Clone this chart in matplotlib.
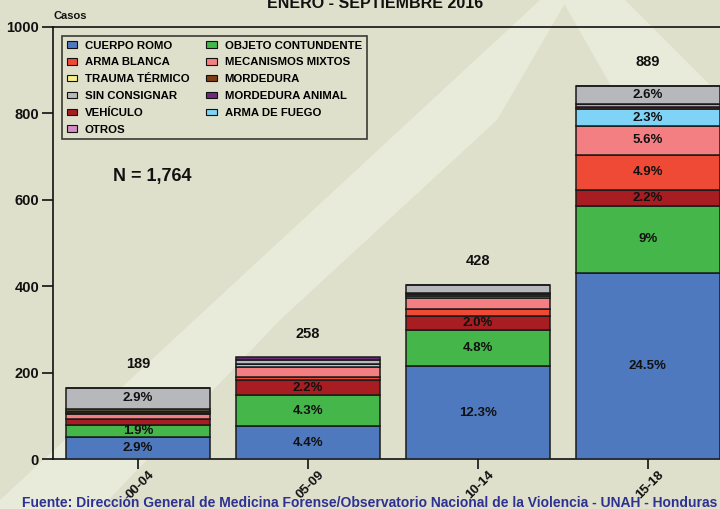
import matplotlib
matplotlib.use("Agg")
import matplotlib.pyplot as plt
from matplotlib.patches import Polygon, Patch
from matplotlib.transforms import ScaledTranslation
import numpy as np

plt.rcParams['font.family'] = ['Liberation Sans', 'DejaVu Sans']
plt.rcParams['font.weight'] = 'bold'

categories = ['00-04', '05-09', '10-14', '15-18']
totals = [189, 258, 428, 889]

cuerpo_romo = [51, 76, 216, 430]
objeto_contundente = [29, 72, 83, 157]
vehiculo = [13, 35, 33, 36]
arma_blanca = [0, 7, 15, 82]
mecanismos_mixtos = [12, 24, 25, 66]
arma_de_fuego = [3, 7, 6, 39]
mordedura = [3, 0, 4, 5]
otros = [0, 0, 3, 6]
trauma_termico = [5, 0, 0, 0]
sin_consignar = [50, 8, 18, 42]
mordedura_animal = [0, 7, 0, 0]

pct_cuerpo_romo = ['2.9%', '4.4%', '12.3%', '24.5%']
pct_objeto = ['1.9%', '4.3%', '4.8%', '9%']
pct_vehiculo = ['', '2.2%', '2.0%', '2.2%']
pct_arma_blanca = ['', '', '', '4.9%']
pct_mecanismos = ['', '', '', '5.6%']
pct_arma_fuego = ['', '', '', '2.3%']
pct_sin_consignar = ['2.9%', '', '', '2.6%']
empty = ['', '', '', '']

series = [
    ('CUERPO ROMO', cuerpo_romo, '#4f79bf', pct_cuerpo_romo),
    ('OBJETO CONTUNDENTE', objeto_contundente, '#45b64a', pct_objeto),
    ('VEHÍCULO', vehiculo, '#a81d22', pct_vehiculo),
    ('ARMA BLANCA', arma_blanca, '#ef4a36', pct_arma_blanca),
    ('MECANISMOS MIXTOS', mecanismos_mixtos, '#f47f82', pct_mecanismos),
    ('ARMA DE FUEGO', arma_de_fuego, '#7fd3f6', pct_arma_fuego),
    ('MORDEDURA', mordedura, '#7b3f16', empty),
    ('OTROS', otros, '#d58cc9', empty),
    ('TRAUMA TÉRMICO', trauma_termico, '#f6f08c', empty),
    ('SIN CONSIGNAR', sin_consignar, '#b7b8bc', pct_sin_consignar),
    ('MORDEDURA ANIMAL', mordedura_animal, '#6c2a7a', empty),
]
legend_order = ['CUERPO ROMO', 'ARMA BLANCA', 'TRAUMA TÉRMICO', 'SIN CONSIGNAR',
                'VEHÍCULO', 'OTROS', 'OBJETO CONTUNDENTE', 'MECANISMOS MIXTOS',
                'MORDEDURA', 'MORDEDURA ANIMAL', 'ARMA DE FUEGO']

bg = '#dfe0cb'
light = '#e8eada'
W, H = 720, 509
fig = plt.figure(figsize=(W / 100, H / 100), dpi=100, facecolor=bg)

# decorative background shapes in a full-figure background axes (pixel coords, y from top)
bax = fig.add_axes([0, 0, 1, 1], zorder=0)
bax.set_xlim(0, W)
bax.set_ylim(H, 0)
bax.axis('off')
bax.add_patch(Polygon([(540, 0), (567, 0), (497, 120), (280, 320), (100, 509), (0, 509), (0, 500)],
                      closed=True, facecolor=light, edgecolor='none'))
bax.add_patch(Polygon([(562, 0), (625, 0), (720, 95), (720, 277)], closed=True,
                      facecolor=light, edgecolor='none'))

ax = fig.add_axes([53 / W, 1 - 459.3 / H, 1 - 53 / W, (459.3 - 27) / H], zorder=1)
ax.set_facecolor('none')
x = np.arange(len(categories))
bottom = np.zeros(len(categories))
width = 0.847
for name, vals, col, labels in series:
    vals = np.array(vals, dtype=float)
    ax.bar(x, vals, width, bottom=bottom, color=col, edgecolor='#1a1a1a',
           linewidth=1.1, label=name, zorder=3)
    for i, lab in enumerate(labels):
        if lab:
            ax.text(x[i], bottom[i] + vals[i] / 2, lab, ha='center', va='center',
                    fontsize=9.5, fontweight='bold', color='#111111', zorder=4)
    bottom += vals

for i, t in enumerate(totals):
    ax.text(x[i], bottom[i] + 55, str(t), ha='center', va='center',
            fontsize=10.5, fontweight='bold', color='#111111')

ax.set_xlim(-0.5, 3.424)
ax.set_ylim(0, 1000)
ax.set_yticks([0, 200, 400, 600, 800, 1000])
ax.set_yticklabels(['0', '200', '400', '600', '800', '1000'], fontsize=10.5, fontweight='bold')
ax.set_xticks(x)
ax.set_xticklabels([''] * len(categories))
lab_tr = ax.get_xaxis_transform() + ScaledTranslation(14 / 100, -14 / 100, fig.dpi_scale_trans)
for i, c in enumerate(categories):
    ax.text(x[i], 0, c, transform=lab_tr, rotation=45, rotation_mode='anchor',
            ha='right', va='center', fontsize=9.5, fontweight='bold', color='#111111',
            clip_on=False)
ax.tick_params(axis='y', length=8, width=1.2, pad=2, colors='#111111')
ax.tick_params(axis='x', length=7, width=1.2, pad=2, colors='#111111')
for s in ['left', 'bottom', 'top']:
    ax.spines[s].set_linewidth(1.2)
    ax.spines[s].set_color('#111111')
ax.spines['right'].set_visible(False)

handles_map = {name: Patch(facecolor=col, edgecolor='#111111', linewidth=0.8)
               for name, vals, col, labels in series}
leg = ax.legend([handles_map[n] for n in legend_order], legend_order, ncol=2,
                loc='upper left', bbox_to_anchor=((62 - 53) / 667, (459.3 - 36) / 432.3),
                borderaxespad=0, frameon=True, fancybox=False, edgecolor='#111111',
                facecolor='none', prop={'weight': 'bold', 'size': 8.2},
                handlelength=0.9, handleheight=0.5, handletextpad=0.7,
                labelspacing=0.6, columnspacing=1.5, borderpad=0.4)
leg.get_frame().set_linewidth(1.2)
leg.set_zorder(5)

fig.text(152 / W, 1 - 177 / H, 'N = 1,764', ha='center', va='center',
         fontsize=13, fontweight='bold', color='#111111')
fig.text(54 / W, 1 - 16 / H, 'Casos', ha='left', va='center',
         fontsize=8, fontweight='bold', color='#111111')
fig.text(375 / W, 1 - 8 / H, 'ENERO - SEPTIEMBRE 2016', ha='center', va='baseline',
         fontsize=11.5, fontweight='bold', color='#111111')
fig.text(22 / W, 1 - 503 / H,
         'Fuente: Dirección General de Medicina Forense/Observatorio Nacional de la Violencia - UNAH - Honduras',
         ha='left', va='center', fontsize=10, fontweight='bold', color='#2e3192')

fig.savefig('out.png', dpi=100, facecolor=bg)
